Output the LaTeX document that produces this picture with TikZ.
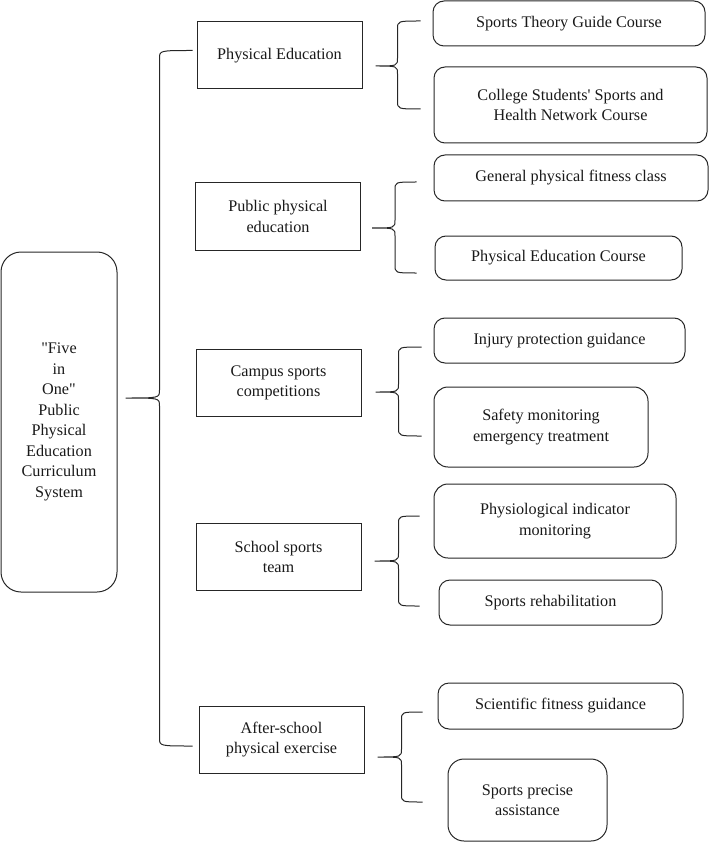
\documentclass[tikz,border=0pt]{standalone}
\usepackage{fontspec}
\setmainfont{Liberation Serif}
\usetikzlibrary{calc}

% llave: punta, extremo de arriba, extremo de abajo, desplazamiento del trazo vertical
\newcommand{\llave}[4]{%
  \draw[linea] let \p1=(#1), \p2=(#2), \p3=(#3) in
    (\p2) .. controls (\x1+#4,\y2) .. (\x1+#4,\y2-8pt)
    -- (\x1+#4,\y1+8pt) .. controls (\x1+#4,\y1) .. (\p1)
    .. controls (\x1+#4,\y1) .. (\x1+#4,\y1-8pt)
    -- (\x1+#4,\y3+8pt) .. controls (\x1+#4,\y3) .. (\p3);}

\begin{document}
\begin{tikzpicture}[x=1pt, y=-1pt,
    linea/.style={draw=black!85, line width=1pt},
    caja/.style={linea, text=black!90, align=center, inner sep=0pt,
                 font=\fontsize{16.2}{20.5}\selectfont},
    raiz/.style={caja, rounded corners=20pt, minimum width=116pt, minimum height=340pt},
    tema/.style={caja, minimum width=165pt, minimum height=67pt},
    hoja/.style={caja, rounded corners=11pt}]
  \useasboundingbox (0,0) rectangle (710,842);

  \node[raiz] (root) at (59,422)
    {\textquotedbl Five\\in\\One\textquotedbl\\Public\\Physical\\Education\\Curriculum\\System};

  % segundo nivel
  \node[tema] (pe)     at (279.5,55.5) {Physical Education};
  \node[tema] (public) at (278,216.5)  {Public physical\\education};
  \node[tema] (campus) at (278.5,383)  {Campus sports\\competitions};
  \node[tema] (team)   at (278.5,557)  {School sports\\team};
  \node[tema] (after)  at (281.5,739.5) {After-school\\physical exercise};

  % tercer nivel
  \node[hoja, minimum width=272pt, minimum height=45pt] (theory)  at (569,23.5) {Sports Theory Guide Course};
  \node[hoja, minimum width=273pt, minimum height=76pt] (network) at (570.5,105)
    {College Students\textquotesingle{} Sports and\\Health Network Course};
  \node[hoja, minimum width=274pt, minimum height=46pt] (fitness) at (571,178) {General physical fitness class};
  \node[hoja, minimum width=247pt, minimum height=44pt] (course)  at (558.5,258) {Physical Education Course};
  \node[hoja, minimum width=251pt, minimum height=45pt] (injury)  at (559.5,340.5) {Injury protection guidance};
  \node[hoja, minimum width=214pt, minimum height=80pt, rounded corners=14pt] (safety) at (541,427)
    {Safety monitoring\\emergency treatment};
  \node[hoja, minimum width=242pt, minimum height=74pt, rounded corners=14pt] (physio) at (555,521)
    {Physiological indicator\\monitoring};
  \node[hoja, minimum width=223pt, minimum height=45pt] (rehab)   at (550.5,602.5) {Sports rehabilitation};
  \node[hoja, minimum width=245pt, minimum height=46pt] (science) at (560.5,706) {Scientific fitness guidance};
  \node[hoja, minimum width=159pt, minimum height=82pt, rounded corners=16pt] (precise) at (527.5,800)
    {Sports precise\\assistance};

  % puntas y extremos de las llaves
  \coordinate (t0) at ($(root.east)+(8,-24)$);
  \coordinate (a0) at ($(pe.west)+(-4,-5)$);
  \coordinate (b0) at ($(after.west)+(-6,6.5)$);
  \coordinate (t1) at ($(pe.east)+(13,10.5)$);
  \coordinate (a1) at ($(theory.west)+(-12,-2.5)$);
  \coordinate (b1) at ($(network.west)+(-13,4)$);
  \coordinate (t2) at ($(public.east)+(11,11.5)$);
  \coordinate (a2) at ($(fitness.west)+(-17,4)$);
  \coordinate (b2) at ($(course.west)+(-18,15)$);
  \coordinate (t3) at ($(campus.east)+(14,9)$);
  \coordinate (a3) at ($(injury.west)+(-12,6.5)$);
  \coordinate (b3) at ($(safety.west)+(-12,9)$);
  \coordinate (t4) at ($(team.east)+(13,4)$);
  \coordinate (a4) at ($(physio.west)+(-14,-5)$);
  \coordinate (b4) at ($(rehab.west)+(-19,3.5)$);
  \coordinate (t5) at ($(after.east)+(13,17.5)$);
  \coordinate (a5) at ($(science.west)+(-15,6)$);
  \coordinate (b5) at ($(precise.west)+(-25,2)$);

  \llave{t0}{a0}{b0}{34pt}
  \llave{t1}{a1}{b1}{22pt}
  \llave{t2}{a2}{b2}{23pt}
  \llave{t3}{a3}{b3}{23pt}
  \llave{t4}{a4}{b4}{24pt}
  \llave{t5}{a5}{b5}{24pt}
\end{tikzpicture}
\end{document}
